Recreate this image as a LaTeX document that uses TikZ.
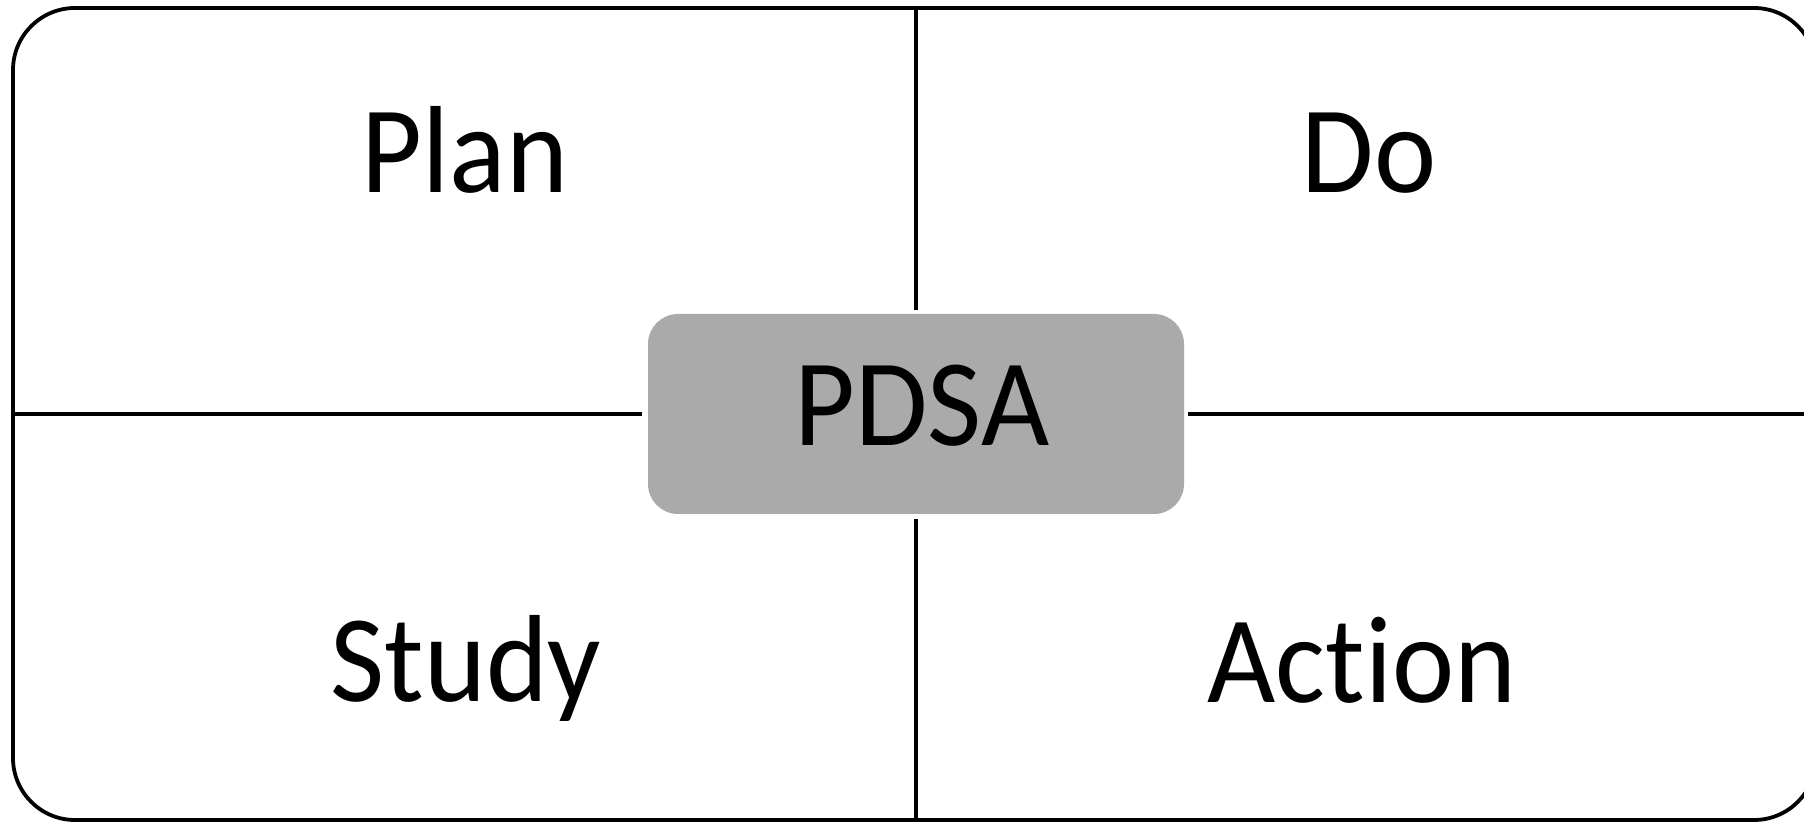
\documentclass[tikz,border=0pt]{standalone}
\usepackage{fontspec}
\setmainfont[FakeStretch=0.95,Ligatures={NoCommon,NoRare}]{Carlito}
\definecolor{boxgray}{HTML}{AAAAAA}
\begin{document}
\begin{tikzpicture}[x=0.5pt,y=-0.5pt,
  frame/.style={draw=black,line width=1.9pt},
  divider/.style={draw=black,line width=1.9pt},
  label/.style={anchor=base,inner sep=0pt,font=\fontsize{62}{70}\selectfont},
  centerbox/.style={fill=boxgray,draw=none,rounded corners=15pt,minimum width=268pt,minimum height=100pt,inner sep=0pt}]
\useasboundingbox (0,0) rectangle (1804,822);
\clip (0,0) rectangle (1804,822);
\draw[frame,rounded corners=31pt] (13,8) rectangle (1816,820);
\node[centerbox] (pdsa) at (916,414) {};
\node[label] (pdsat) at (922,446) {PDSA};
\coordinate (top) at (916,8);
\coordinate (bottom) at (916,820);
\coordinate (left) at (13,414);
\coordinate (right) at (1816,414);
\coordinate (ttop) at (916,310);
\coordinate (tbot) at (916,519);
\coordinate (tleft) at (642,414);
\coordinate (tright) at (1188,414);
\draw[divider] (top) -- (ttop);
\draw[divider] (tbot) -- (bottom);
\draw[divider] (left) -- (tleft);
\draw[divider] (tright) -- (right);
\node[label] (plan) at (465,193) {Plan};
\node[label] (do) at (1369,193) {Do};
\node[label] (study) at (466,702) {Study};
\node[label] (action) at (1362,703) {Action};
\end{tikzpicture}
\end{document}
